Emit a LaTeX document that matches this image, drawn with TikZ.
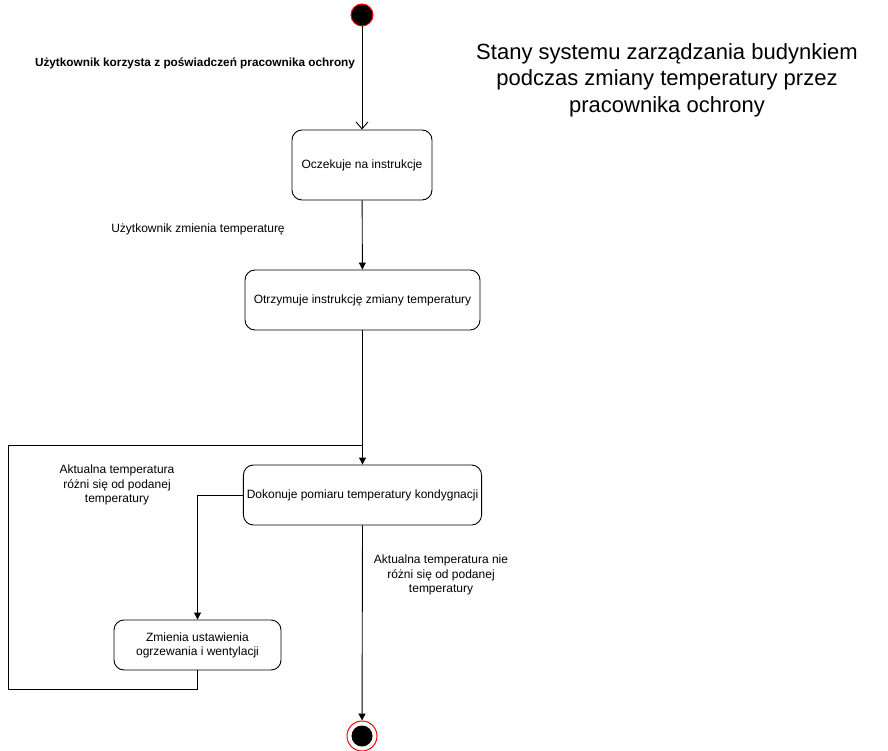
\documentclass[tikz,border=0pt]{standalone}
\usepackage{fontspec}
\setmainfont{Liberation Sans}
\usetikzlibrary{arrows.meta}
\tikzset{
  statebox/.style={draw, rounded corners=10pt, line width=0.9pt, minimum width=#1, align=center, font=\fontsize{12}{14}\selectfont},
  lbl/.style={align=center, font=\fontsize{12}{14.5}\selectfont, inner sep=0pt},
  flow/.style={line width=0.9pt, -{Triangle[length=7pt,width=7pt]}},
  openflow/.style={line width=0.9pt, -{Straight Barb[length=7pt,width=12pt,line width=0.9pt]}},
  seg/.style={line width=0.9pt}
}
\begin{document}
\begin{tikzpicture}[x=1pt,y=-1pt]
\useasboundingbox (0,0) rectangle (888,751);
% start
\node[circle, fill=black, draw=red, line width=1pt, minimum size=22pt, inner sep=0pt] (start) at (362,15) {};
% boxes
\node[statebox=140pt, minimum height=70pt] (b1) at (362,165) {Oczekuje na instrukcje};
\node[statebox=235pt, minimum height=60pt] (b2) at (362.5,300) {Otrzymuje instrukcję zmiany temperatury};
\node[statebox=235pt, minimum height=60pt] (b3) at (362.5,495) {Dokonuje pomiaru temperatury kondygnacji};
\node[statebox=167pt, minimum height=50pt] (b4) at (197.5,645) {Zmienia ustawienia\\ogrzewania i wentylacji};
% end
\node[circle, draw=red, line width=1pt, minimum size=30pt, inner sep=0pt] (end) at (362,736) {};
\node[circle, fill=black, minimum size=21pt, inner sep=0pt] (endin) at (362,736) {};
% labels
\node[lbl, font=\fontsize{11.8}{14.5}\selectfont\bfseries] (l1) at (195,63) {Użytkownik korzysta z poświadczeń pracownika ochrony};
\node[lbl] (l2) at (198,229) {Użytkownik zmienia temperaturę};
\node[lbl] (l3) at (117,485) {Aktualna temperatura\\różni się od podanej\\temperatury};
\node[lbl] (l4) at (441,575) {Aktualna temperatura nie\\różni się od podanej\\temperatury};
\node[align=center, font=\fontsize{22}{26.5}\selectfont, inner sep=0pt] (title) at (667,80) {Stany systemu zarządzania budynkiem\\podczas zmiany temperatury przez\\pracownika ochrony};
% connectors
\draw[openflow] (start) -- (b1);
\draw[flow] (b1) -- (b2);
\coordinate (j) at (362.5,445);
\draw[flow] (b2) -- (b3);
\draw[flow] (b3.west) -| (b4.north);
\draw[seg] (b4.south) |- (8,689) |- (j);
\draw[flow] (b3.south) -- (end);
\end{tikzpicture}
\end{document}
